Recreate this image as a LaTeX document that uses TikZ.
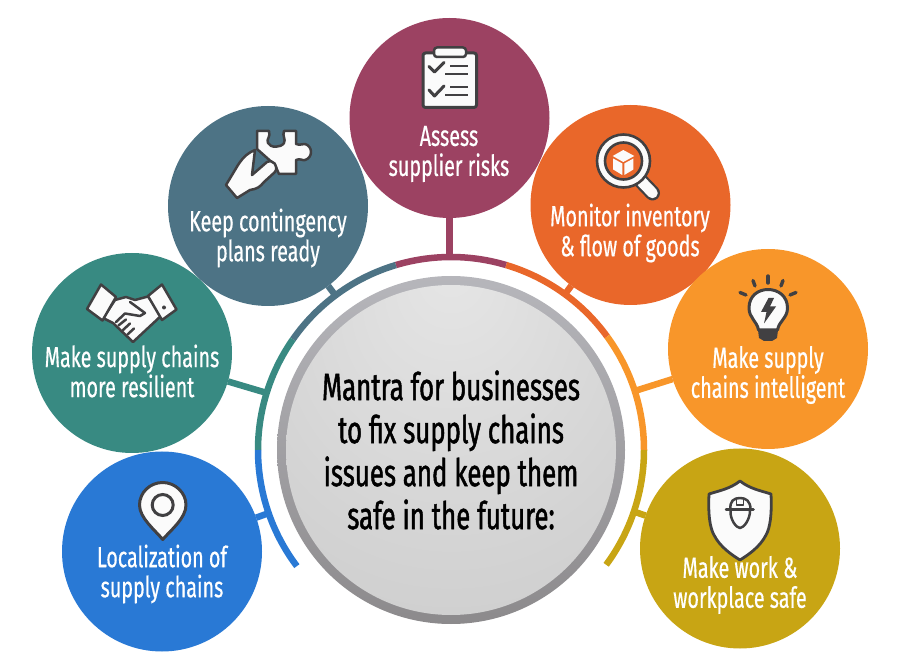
\documentclass[tikz,border=0pt]{standalone}
\usepackage{fontspec}
\usepackage{tikz}
\newfontfamily\labelfont[FakeStretch=0.68,FakeBold=0.5]{Fira Sans}
\newfontfamily\hubfont[FakeStretch=0.68,FakeBold=1.2]{Fira Sans}
\definecolor{riskcol}{HTML}{9C4262}
\definecolor{goodscol}{HTML}{E9672A}
\definecolor{smartcol}{HTML}{F8962A}
\definecolor{safecol}{HTML}{C8A514}
\definecolor{localcol}{HTML}{2979D5}
\definecolor{resilcol}{HTML}{388A82}
\definecolor{plancol}{HTML}{4D7385}
\definecolor{icondark}{HTML}{414042}
\definecolor{iconwhite}{HTML}{FBFBFB}
\definecolor{rimtop}{HTML}{B6B6BB}
\definecolor{rimbottom}{HTML}{8C8A8C}
\pgfdeclareradialshading{hubglow}{\pgfpoint{0bp}{28bp}}{color(0bp)=(white!90!black);color(30bp)=(white!83!black);color(65bp)=(white!76!black)}
\tikzset{
  bubble/.style={circle,fill=#1,minimum size=200pt,inner sep=0pt,outer sep=0pt},
  bubbletext/.style={text=white,align=center,font=\labelfont\fontsize{29}{30}\selectfont},
  band/.style={line width=6.5pt,draw=#1},
  stem/.style={line width=6.5pt,draw=#1},
  iconline/.style={draw=icondark,fill=iconwhite,line width=2.5pt,line join=round},
  iconstroke/.style={draw=icondark,line width=2.5pt,line cap=round,line join=round},
  iconfill/.style={fill=icondark}
}
\begin{document}
\begin{tikzpicture}[x=1pt,y=1pt]
    \useasboundingbox (0,0) rectangle (900,670);
    % centre
    \node[circle,minimum size=348pt,inner sep=0pt,outer sep=0pt,top color=rimtop,bottom color=rimbottom] (rim) at (451,220) {};
    \node[circle,minimum size=330pt,inner sep=0pt,outer sep=0pt,shading=hubglow,align=center,text=black,
      font=\hubfont\fontsize{38}{43}\selectfont] (hub) at (451,220)
      {Mantra for businesses\\to fix supply chains\\issues and keep them\\safe in the future:};
    % bubbles
    \node[bubble=riskcol] (risks) at (449.5,552) {};
    \node[bubble=goodscol] (goods) at (630.5,465) {};
    \node[bubble=smartcol] (smart) at (768,321) {};
    \node[bubble=safecol] (safe) at (740,121.5) {};
    \node[bubble=localcol] (local) at (162,118.5) {};
    \node[bubble=resilcol] (resil) at (132,317) {};
    \node[bubble=plancol] (plans) at (268,464) {};
    % band round the centre
    \draw[band=riskcol] ([shift={(73.4:193)}]hub.center) arc[start angle=73.4,end angle=106.6,radius=193];
    \draw[band=goodscol] ([shift={(36:193)}]hub.center) arc[start angle=36,end angle=73.4,radius=193];
    \draw[band=smartcol] ([shift={(0:193)}]hub.center) arc[start angle=0,end angle=36,radius=193];
    \draw[band=safecol] ([shift={(-36.5:193)}]hub.center) arc[start angle=-36.5,end angle=0,radius=193];
    \draw[band=plancol] ([shift={(106.6:193)}]hub.center) arc[start angle=106.6,end angle=145,radius=193];
    \draw[band=resilcol] ([shift={(145:193)}]hub.center) arc[start angle=145,end angle=180,radius=193];
    \draw[band=localcol] ([shift={(180:193)}]hub.center) arc[start angle=180,end angle=217,radius=193];
    % connectors
    \coordinate (risksfoot) at (449.5,412);
    \coordinate (goodsfoot) at ([shift={(53.8:193)}]hub.center);
    \coordinate (smartfoot) at ([shift={(17.8:193)}]hub.center);
    \coordinate (safefoot) at ([shift={(-18.6:193)}]hub.center);
    \coordinate (localfoot) at ([shift={(-160.9:193)}]hub.center);
    \coordinate (resilfoot) at ([shift={(162.8:193)}]hub.center);
    \coordinate (plansfoot) at ([shift={(126.8:193)}]hub.center);
    \draw[stem=riskcol] (risks) -- (risksfoot);
    \draw[stem=goodscol] (goods) -- (goodsfoot);
    \draw[stem=smartcol] (smart) -- (smartfoot);
    \draw[stem=safecol] (safe) -- (safefoot);
    \draw[stem=localcol] (local) -- (localfoot);
    \draw[stem=resilcol] (resil) -- (resilfoot);
    \draw[stem=plancol] (plans) -- (plansfoot);
    % labels
    \node[bubbletext] (riskslabel) at (449,516) {Assess\\supplier risks};
    \node[bubbletext] (goodslabel) at (630,437) {Monitor inventory\\\&\ flow of goods};
    \node[bubbletext] (smartlabel) at (768,295) {Make supply\\chains intelligent};
    \node[bubbletext] (safelabel) at (740,85) {Make work \&\\workplace safe};
    \node[bubbletext] (locallabel) at (162,96) {Localization of\\supply chains};
    \node[bubbletext] (resillabel) at (132,299) {Make supply chains\\more resilient};
    \node[bubbletext] (planslabel) at (268,432) {Keep contingency\\plans ready};
    % clipboard
    \begin{scope}[shift={(340,660)},yscale=-1]
      \draw[iconline,line width=3pt,rounded corners=2.5pt] (83,43) rectangle (136.5,97.5);
      \draw[iconline,rounded corners=3pt] (94,37.5) rectangle (126,47);
      \draw[iconstroke,line width=3pt] (89,56.5) -- (94.5,62) -- (104,52.5);
      \draw[iconstroke,line width=3pt] (89,80) -- (94.5,86) -- (104,76);
      \draw[iconstroke,line width=2.8pt,line cap=butt] (110,56) -- (128,56);
      \draw[iconstroke,line width=2.8pt,line cap=butt] (105,64) -- (128,64);
      \draw[iconstroke,line width=2.8pt,line cap=butt] (110,77) -- (128,77);
      \draw[iconstroke,line width=2.8pt,line cap=butt] (105,85) -- (128,85);
    \end{scope}
    % magnifier
    \begin{scope}[shift={(590,540)},yscale=-1]
      \draw[line width=15pt,line cap=round,draw=icondark] (50,50) -- (62.5,63);
      \draw[line width=10.5pt,line cap=round,draw=iconwhite] (50,50) -- (62.5,63);
      \draw[iconline,line width=2.6pt] (33.5,31) circle[radius=26.5];
      \draw[draw=icondark,fill=goodscol,line width=2.6pt] (33.5,31) circle[radius=18.5];
      \fill[iconwhite] (33.3,20) -- (44.3,26) -- (33.3,32) -- (22.7,26) -- cycle;
      \fill[iconwhite] (23.2,28.5) -- (32.3,33.5) -- (32.3,45) -- (23.2,39.5) -- cycle;
      \fill[iconwhite] (34.3,33.5) -- (43.4,28.5) -- (43.4,39.5) -- (34.3,45) -- cycle;
    \end{scope}
    % bulb
    \begin{scope}[shift={(590,410)},yscale=-1]
      \fill[icondark] (168,70) -- (188,70) -- (187,78) -- (182,81) -- (174,81) -- (169,78) -- cycle;
      \draw[iconline,line width=3pt] (168.5,70) .. controls (167,61) and (159,58) .. (159,48)
        .. controls (159,36) and (168,29.5) .. (178,29.5)
        .. controls (188,29.5) and (197.5,36) .. (197.5,48)
        .. controls (197.5,58) and (189,61) .. (187.5,70) -- cycle;
      \fill[icondark] (178.5,38) -- (171,52) -- (176.5,52) -- (174,63.5) -- (186,46.5) -- (180,46.5) -- (184,38) -- cycle;
      \foreach \raytip/\raytail in {{178,16}/{178,23},{163,20.5}/{165,26},{193,20.5}/{191,26},{150,32.5}/{156,35},{206,32.5}/{200,35}}
        \draw[draw=icondark,line width=3.4pt,line cap=round] (\raytip) -- (\raytail);
    \end{scope}
    % shield
    \begin{scope}[shift={(590,410)},yscale=-1]
      \draw[iconline,line width=2.8pt] (150,221) .. controls (140,229) and (128,231) .. (119,234)
        .. controls (118,255) and (120,268) .. (124,275)
        .. controls (130,287) and (142,295) .. (150,300)
        .. controls (158,295) and (170,287) .. (176,275)
        .. controls (180,268) and (182,255) .. (181,234)
        .. controls (172,231) and (160,229) .. (150,221) -- cycle;
      \draw[iconstroke] (136,249.5) -- (163.5,249.5);
      \draw[iconstroke] (140.5,249.5) .. controls (139.5,241) and (144,238) .. (150,238)
        .. controls (156,238) and (160.5,241) .. (160.5,249.5);
      \draw[iconstroke] (140.5,251) .. controls (140,259) and (146,268) .. (150,268)
        .. controls (154,268) and (160,259) .. (160,251);
      \draw[iconstroke,line width=1.8pt] (146.5,239) -- (146.5,245) -- (153.5,245) -- (153.5,239);
    \end{scope}
    % pin
    \begin{scope}[shift={(50,270)},yscale=-1]
      \draw[iconline,line width=3pt] (89.5,105) .. controls (89.5,92.5) and (100,82.5) .. (112.7,82.5)
        .. controls (125,82.5) and (136,92.5) .. (136,105)
        .. controls (136,118) and (121,130) .. (112.7,139.5)
        .. controls (105,130) and (89.5,118) .. (89.5,105) -- cycle;
      \draw[draw=icondark,line width=3pt] (112.7,105) circle[radius=10.5];
    \end{scope}
    % handshake
    \begin{scope}[shift={(80,395)},yscale=-1]
      \draw[iconline] (35,25) -- (46,22) -- (55,25) -- (68,21.5) -- (82,40) -- (53,67) -- (33,48) -- (23,43) -- cycle;
      \draw[iconstroke,fill=iconwhite] (50,27) -- (65,38) -- (60,41) -- (45,38.5) -- (36,47);
      \draw[iconstroke] (38.5,50.5) -- (46,44.5);
      \draw[iconstroke] (43,55) -- (50,48.5);
      \draw[iconstroke] (47.5,59.5) -- (54,53.5);
      \draw[iconline] (21,9.5) -- (36,22) -- (22.5,45.5) -- (7,34) -- cycle;
      \draw[iconline] (82,9.5) -- (96.5,34.5) -- (82,45) -- (68,21) -- cycle;
      \fill[icondark] (84,32.5) circle[radius=2];
    \end{scope}
    % jigsaw piece and hand
    \begin{scope}[shift={(215,545)},yscale=-1]
      \draw[iconline] (42,6) -- (54,6) .. controls (56,12) and (51,14) .. (53,18)
        .. controls (55,23) and (66,23) .. (69,18)
        .. controls (71,14) and (67,11) .. (69,6) -- (81,6) -- (81,19)
        .. controls (86,21) and (88,18) .. (90,19)
        .. controls (98,21) and (98,33) .. (90,35)
        .. controls (88,36) and (85,33) .. (81,35) -- (81,49) -- (64,49) -- (60,40) -- (42,24) -- cycle;
      \draw[iconline] (11,60) -- (22,73) -- (35,65) .. controls (42,64) and (45,62) .. (49,57)
        -- (60,47) .. controls (64,41) and (58,34) .. (52,37) -- (37,50) -- (40,25) .. controls (33,28) and (29,31) .. (23,40) -- cycle;
    \end{scope}
  \end{tikzpicture}
\end{document}
